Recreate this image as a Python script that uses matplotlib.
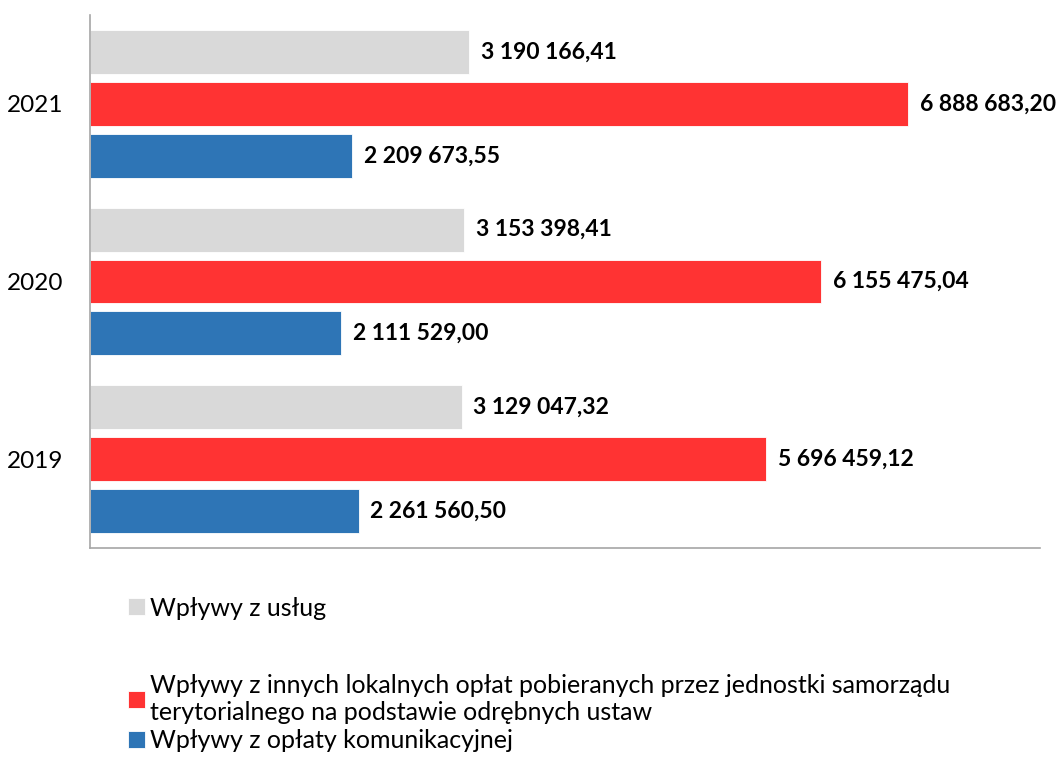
import matplotlib
matplotlib.use('Agg')
import matplotlib.pyplot as plt
import numpy as np

plt.rcParams['font.family'] = ['Lato', 'DejaVu Sans']

years = ['2019', '2020', '2021']
uslugi = [3129047.32, 3153398.41, 3190166.41]
inne = [5696459.12, 6155475.04, 6888683.20]
komunikacyjna = [2261560.50, 2111529.00, 2209673.55]
labels = ['Wpływy z usług',
          'Wpływy z innych lokalnych opłat pobieranych przez jednostki samorządu\nterytorialnego na podstawie odrębnych ustaw',
          'Wpływy z opłaty komunikacyjnej']
colors = ['#D9D9D9', '#FF3333', '#2E75B6']

def fmt(v):
    s = '{:,.2f}'.format(v)
    return s.replace(',', ' ').replace('.', ',')

fig = plt.figure(figsize=(10.59, 7.78), dpi=100)
ax = fig.add_axes([90/1059, 1 - 548/778, 950/1059, 533/778])

y = np.arange(len(years))
step = 0.292
h = 0.247
series = [uslugi, inne, komunikacyjna]
offsets = [step, 0, -step]
bars = []
for vals, off, c in zip(series, offsets, colors):
    b = ax.barh(y + off, vals, height=h, color=c, edgecolor='white', linewidth=0.6)
    bars.append(b)
    for yi, v in zip(y + off, vals):
        ax.text(v + 100000, yi, fmt(v), va='center', ha='left',
                fontsize=16.5, fontweight='bold', color='black')

ax.set_xlim(0, 8000000)
ax.set_ylim(-0.5, 2.5)
ax.set_yticks(y)
ax.set_yticklabels(years, fontsize=17.5)
ax.set_xticks([])
ax.tick_params(axis='y', length=0, pad=19)
for s in ['top', 'right']:
    ax.spines[s].set_visible(False)
for s in ['left', 'bottom']:
    ax.spines[s].set_color('#A6A6A6')
    ax.spines[s].set_linewidth(1.2)

legend_pos = [608, 699, 741]
for b, lab, yp in zip(bars, labels, legend_pos):
    leg = fig.legend([b], [lab], loc='center left', bbox_to_anchor=(128/1059, 1 - yp/778),
                     frameon=False, fontsize=18, handlelength=0.66, handleheight=0.66,
                     handletextpad=0.22, borderaxespad=0, borderpad=0)
    for t in leg.get_texts():
        t.set_linespacing(1.25)

fig.savefig('out.png', dpi=100)
